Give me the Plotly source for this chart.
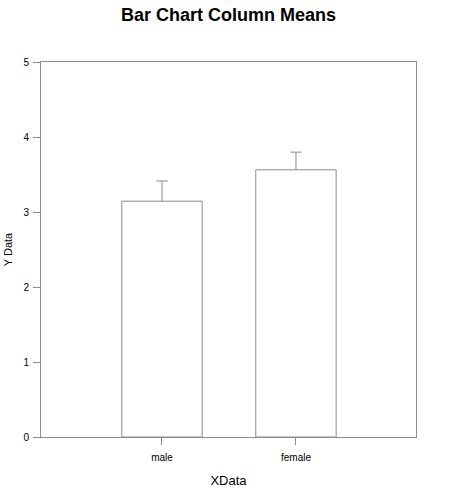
import plotly.graph_objects as go

# Column means with their positive error
categories = ["male", "female"]
means = [3.144, 3.563]
errors = [0.27, 0.235]
y_ticks = [0, 1, 2, 3, 4, 5]

LINE = "#8c8c8c"
FONT = "Liberation Sans, Arial, sans-serif"

upper = [m + e for m, e in zip(means, errors)]

fig = go.Figure()
fig.add_trace(go.Bar(
    x=categories,
    y=means,
    width=0.6,
    marker=dict(color="white", line=dict(color=LINE, width=1)),
    error_y=dict(
        type="data",
        array=errors,
        arrayminus=[0] * len(errors),
        symmetric=False,
        color=LINE,
        thickness=1,
        width=0,
    ),
))
# caps only on the upper end of each error bar
fig.add_trace(go.Scatter(
    x=categories,
    y=upper,
    mode="markers",
    marker=dict(symbol="line-ew", size=8, line=dict(color=LINE, width=1)),
    hoverinfo="skip",
))

fig.update_layout(
    width=450,
    height=488,
    margin=dict(l=41, r=34, t=62, b=50.5),
    paper_bgcolor="white",
    plot_bgcolor="white",
    showlegend=False,
    font=dict(family=FONT, color="black", size=10),
    title=dict(
        text="<b>Bar Chart Column Means</b>",
        font=dict(family=FONT, size=18, color="black"),
        x=0.5,
        xref="paper",
        xanchor="center",
        y=1 - 15 / 488,
        yanchor="middle",
    ),
)

fig.update_xaxes(
    range=[-0.903, 1.896],
    automargin=False,
    showline=True,
    linecolor=LINE,
    linewidth=1,
    mirror=True,
    ticks="outside",
    ticklen=7,
    tickcolor=LINE,
    tickfont=dict(size=10),
    ticklabelstandoff=4,
    showgrid=False,
    zeroline=False,
    title=dict(text="XData", font=dict(size=13), standoff=16),
)

fig.update_yaxes(
    range=[0, 5],
    tickvals=y_ticks,
    automargin=False,
    showline=True,
    linecolor=LINE,
    linewidth=1,
    mirror=True,
    ticks="outside",
    ticklen=7,
    tickcolor=LINE,
    tickfont=dict(size=10),
    ticklabelstandoff=2,
    showgrid=False,
    zeroline=False,
    title=dict(text="Y Data", font=dict(size=11), standoff=8),
)

fig.write_html("out.html")
